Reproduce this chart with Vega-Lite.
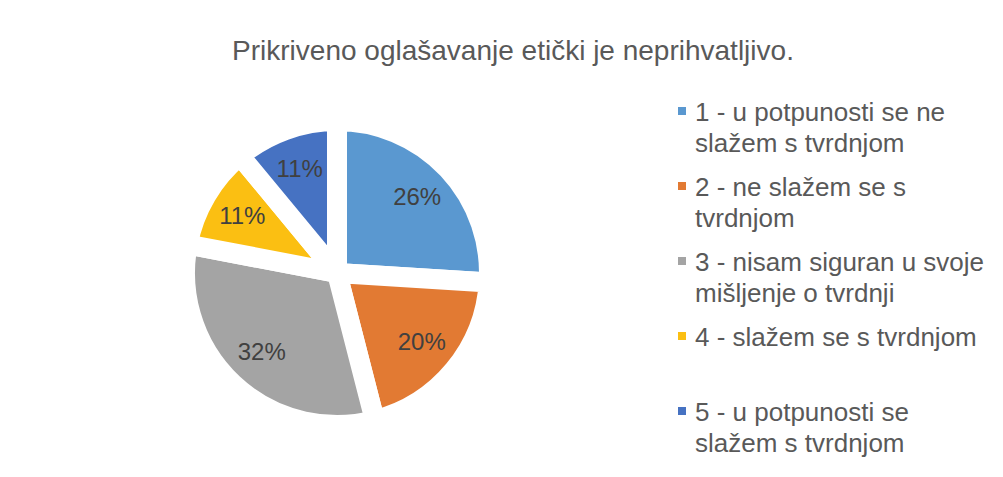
{
  "$schema": "https://vega.github.io/schema/vega-lite/v6.json",
  "autosize": "none",
  "width": 654,
  "height": 386,
  "padding": {"left": 10, "top": 80, "right": 339, "bottom": 11},
  "background": "white",
  "title": {
    "text": "Prikriveno oglašavanje etički je neprihvatljivo.",
    "font": "Liberation Sans",
    "fontSize": 28,
    "fontWeight": "normal",
    "color": "#595959",
    "anchor": "middle",
    "frame": "group",
    "dx": 176,
    "offset": 14
  },
  "data": {
    "values": [
      {"kategorija": "1 - u potpunosti se ne slažem s tvrdnjom", "udio": 0.26, "red": 1},
      {"kategorija": "2 - ne slažem se s tvrdnjom", "udio": 0.20, "red": 2},
      {"kategorija": "3 - nisam siguran u svoje mišljenje o tvrdnji", "udio": 0.32, "red": 3},
      {"kategorija": "4 - slažem se s tvrdnjom", "udio": 0.11, "red": 4},
      {"kategorija": "5 - u potpunosti se slažem s tvrdnjom", "udio": 0.11, "red": 5}
    ]
  },
  "encoding": {
    "theta": {"field": "udio", "type": "quantitative", "stack": true},
    "order": {"field": "red", "type": "quantitative"},
    "color": {
      "field": "kategorija",
      "type": "nominal",
      "sort": null,
      "scale": {
        "domain": [
          "1 - u potpunosti se ne slažem s tvrdnjom",
          "2 - ne slažem se s tvrdnjom",
          "3 - nisam siguran u svoje mišljenje o tvrdnji",
          "4 - slažem se s tvrdnjom",
          "5 - u potpunosti se slažem s tvrdnjom"
        ],
        "range": ["#5A98D0", "#E27A33", "#A4A4A4", "#FBBF12", "#4672C2"]
      },
      "legend": {
        "orient": "none",
        "legendX": 659,
        "legendY": 18,
        "title": null,
        "symbolType": "square",
        "symbolSize": 64,
        "symbolStrokeWidth": 0,
        "labelFont": "Liberation Sans",
        "labelFontSize": 26,
        "labelColor": "#595959",
        "labelLimit": 400,
        "labelOffset": 0,
        "labelBaseline": "top",
        "rowPadding": 16,
        "labelExpr": "datum.label == '1 - u potpunosti se ne slažem s tvrdnjom' ? ['1 - u potpunosti se ne', 'slažem s tvrdnjom'] : datum.label == '2 - ne slažem se s tvrdnjom' ? ['2 - ne slažem se s', 'tvrdnjom'] : datum.label == '3 - nisam siguran u svoje mišljenje o tvrdnji' ? ['3 - nisam siguran u svoje', 'mišljenje o tvrdnji'] : datum.label == '5 - u potpunosti se slažem s tvrdnjom' ? ['5 - u potpunosti se', 'slažem s tvrdnjom'] : [datum.label, ' ']"
      }
    }
  },
  "layer": [
    {
      "mark": {"type": "arc", "outerRadius": 152, "stroke": "white", "strokeWidth": 20, "strokeJoin": "round"}
    },
    {
      "mark": {"type": "text", "radius": 110, "font": "Liberation Sans", "fontSize": 24},
      "encoding": {
        "text": {"field": "udio", "type": "quantitative", "format": ".0%"},
        "color": {"value": "#404040"}
      }
    }
  ],
  "config": {
    "view": {"stroke": null},
    "style": {"guide-label": {"lineHeight": 31, "dy": -11}}
  }
}
